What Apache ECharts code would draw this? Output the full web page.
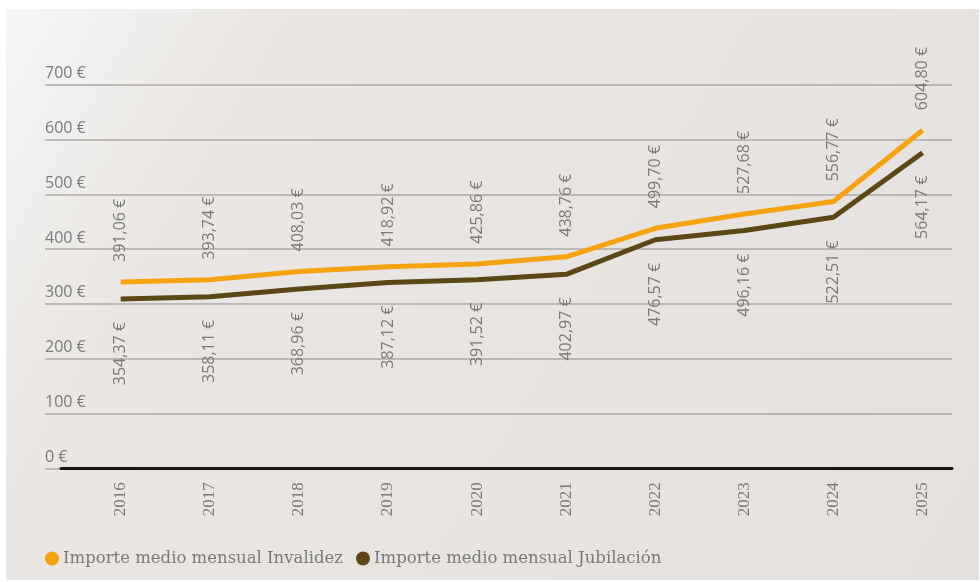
<!DOCTYPE html>
<html>
<head>
<meta charset="utf-8">
<script src="https://cdn.jsdelivr.net/npm/echarts@6/dist/echarts.min.js"></script>
<style>html,body{margin:0;padding:0;background:#fff;}#c{width:980px;height:582px;}</style>
</head>
<body>
<div id="c"></div>
<script>
// Data
const categories = ['2016','2017','2018','2019','2020','2021','2022','2023','2024','2025'];
// Plotted line positions
const invalidezLine = [340, 344, 359, 368, 373, 386, 438, 464, 487, 617];
const jubilacionLine = [309, 313, 327, 339, 344, 354, 417, 434, 458, 576];
// Printed value labels
const invalidezLabels = ['391,06 €','393,74 €','408,03 €','418,92 €','425,86 €','438,76 €','499,70 €','527,68 €','556,77 €','604,80 €'];
const jubilacionLabels = ['354,37 €','358,11 €','368,96 €','387,12 €','391,52 €','402,97 €','476,57 €','496,16 €','522,51 €','564,17 €'];
const yTicks = [0, 100, 200, 300, 400, 500, 600, 700];
const seriesNames = ['Importe medio mensual Invalidez', 'Importe medio mensual Jubilación'];
const seriesColors = ['#f7a30f', '#5c4817'];

const years = categories.map(Number);
const chart = echarts.init(document.getElementById('c'), null, {renderer: 'canvas'});
const gridTop = 84.7, gridBottom = 582 - 468.3;
const labelColor = '#7a7a7a';

function pts(arr){ return arr.map((v,i)=>[years[i], v]); }

chart.setOption({
  backgroundColor: '#ffffff',
  animation: false,
  graphic: [{
    type: 'rect', z: -10, silent: true,
    shape: {x: 6, y: 9, width: 973, height: 571},
    style: {fill: new echarts.graphic.LinearGradient(0, 0, 1, 1, [
      {offset: 0, color: '#f7f6f5'},
      {offset: 0.22, color: '#e9e6e3'},
      {offset: 1, color: '#e4e1de'}
    ])}
  }],
  legend: {
    left: 40, top: 545,
    itemWidth: 14, itemHeight: 14, itemGap: 13,
    icon: 'circle',
    textStyle: {fontFamily: 'DejaVu Serif', fontSize: 16.5, color: '#7a7a7a', padding: [0,0,0,-1]},
    data: seriesNames.map((n, i) => ({name: n, itemStyle: {color: seriesColors[i], opacity: 1}}))
  },
  grid: [
    {left: 45, right: 28, top: gridTop, bottom: gridBottom},
    {left: 61, right: 28, top: gridTop, bottom: gridBottom},
    {left: 61, right: 28, top: gridTop, bottom: gridBottom}
  ],
  xAxis: [
    {gridIndex: 0, type: 'value', min: 0, max: 1, show: false},
    {gridIndex: 1, type: 'value', min: 2015.33, max: 2025.33,
      axisLine: {show: false},
      axisTick: {show: false},
      splitLine: {show: false},
      axisLabel: {
        customValues: years,
        rotate: 90, margin: 14,
        fontFamily: 'Liberation Serif', fontSize: 17, color: '#7a7a7a',
        formatter: v => String(Math.round(v))
      }
    },
    {gridIndex: 2, type: 'category', data: categories, z: 2,
      axisLine: {show: true, onZero: false, lineStyle: {color: '#1a1616', width: 3}},
      axisTick: {show: false}, axisLabel: {show: false}, splitLine: {show: false}
    }
  ],
  yAxis: [
    {gridIndex: 0, type: 'value', min: yTicks[0], max: yTicks[yTicks.length-1], interval: 100,
      axisLine: {show: false}, axisTick: {show: false},
      splitLine: {show: true, lineStyle: {color: '#acaaa7', width: 1.5}},
      axisLabel: {
        inside: true, margin: 0, align: 'left', verticalAlign: 'bottom',
        padding: [0, 0, 3, 0],
        fontFamily: 'Open Sans', fontSize: 16, color: '#7a7a7a',
        formatter: v => v + ' €'
      }
    },
    {gridIndex: 1, type: 'value', min: yTicks[0], max: yTicks[yTicks.length-1], interval: 100, show: false},
    {gridIndex: 2, type: 'value', min: yTicks[0], max: yTicks[yTicks.length-1], interval: 100, show: false}
  ],
  series: [
    {
      name: seriesNames[0], type: 'line', xAxisIndex: 1, yAxisIndex: 1,
      data: pts(invalidezLine),
      color: seriesColors[0],
      lineStyle: {width: 5, color: seriesColors[0]},
      showSymbol: true, symbol: 'circle', symbolSize: 0.1,
      itemStyle: {color: 'rgba(0,0,0,0)'},
      label: {
        show: true, position: 'top', distance: 20, rotate: 90,
        align: 'left', verticalAlign: 'middle',
        fontFamily: 'Open Sans', fontSize: 16, color: labelColor,
        formatter: p => invalidezLabels[p.dataIndex]
      },
      z: 3
    },
    {
      name: seriesNames[1], type: 'line', xAxisIndex: 1, yAxisIndex: 1,
      data: pts(jubilacionLine),
      color: seriesColors[1],
      lineStyle: {width: 5, color: seriesColors[1]},
      showSymbol: true, symbol: 'circle', symbolSize: 0.1,
      itemStyle: {color: 'rgba(0,0,0,0)'},
      label: {
        show: true, position: 'bottom', distance: 23, rotate: 90,
        align: 'right', verticalAlign: 'middle',
        fontFamily: 'Open Sans', fontSize: 16, color: labelColor,
        formatter: p => jubilacionLabels[p.dataIndex]
      },
      z: 3
    }
  ]
});
</script>
</body>
</html>
